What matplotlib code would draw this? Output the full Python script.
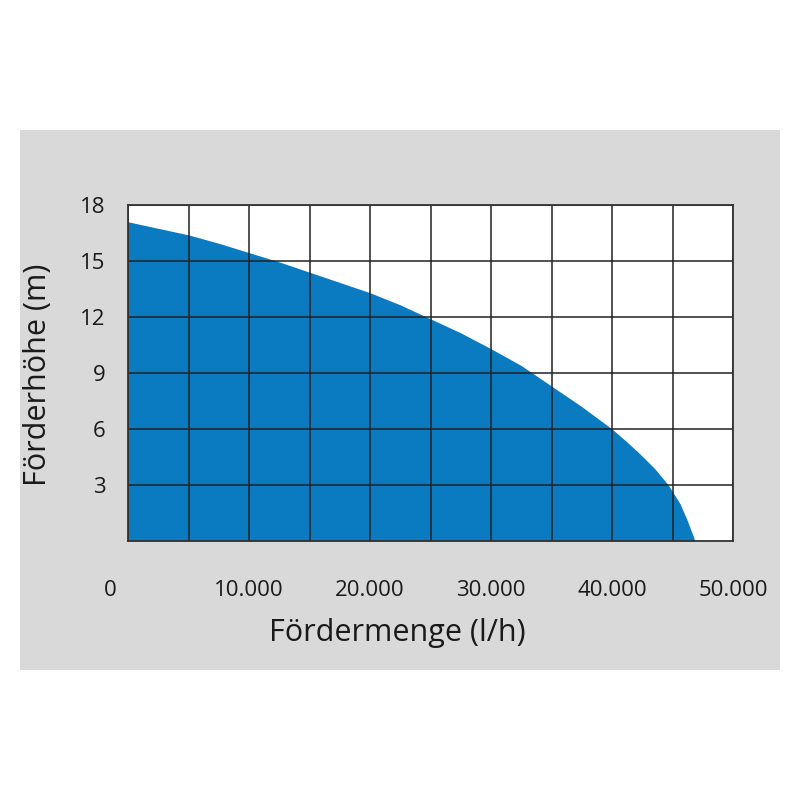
"""
Pumpenkennlinie - Förderhöhe über Fördermenge
"""
import matplotlib
matplotlib.use('Agg')

import matplotlib.pyplot as plt
import matplotlib.transforms as mtransforms

plt.rcParams['font.family'] = ['Open Sans', 'DejaVu Sans']

# Kennlinie
flow_lph = [0, 2500, 5000, 7500, 10000, 12500, 15000, 17500, 20000, 22500,
            25000, 27500, 30000, 32500, 35000, 37500, 40000, 41070, 42170,
            43500, 44650, 45620, 46220, 46860]
head_m = [17.1, 16.75, 16.4, 15.95, 15.45, 14.95, 14.4, 13.85, 13.3, 12.65,
          11.9, 11.15, 10.3, 9.4, 8.3, 7.2, 6.0, 5.4, 4.75,
          3.9, 3.0, 2.0, 1.1, 0.0]

x_ticks = [0, 10000, 20000, 30000, 40000, 50000]
x_labels = ['0', '10.000', '20.000', '30.000', '40.000', '50.000']
x_grid = [5000, 15000, 25000, 35000, 45000]
y_ticks = [3, 6, 9, 12, 15, 18]
y_labels = ['3', '6', '9', '12', '15', '18']

fill_color = '#0b7bc1'
line_color = '#222222'

fig = plt.figure(figsize=(8, 8), dpi=100)
fig.patch.set_facecolor('white')

# grauer Hintergrund
fig.add_artist(plt.Rectangle((0.025, 0.1625), 0.95, 0.675,
                             transform=fig.transFigure, facecolor='#d9d9d9',
                             edgecolor='none', zorder=0))

ax = fig.add_axes([0.16, 0.32375, 0.75625, 0.42])
ax.set_facecolor('white')
ax.fill_between(flow_lph, head_m, 0, color=fill_color, linewidth=0, zorder=1)

ax.set_xlim(0, 50000)
ax.set_ylim(0, 18)
ax.set_xticks(x_ticks)
ax.set_xticklabels(x_labels)
ax.set_xticks(x_grid, minor=True)
ax.set_yticks(y_ticks)
ax.set_yticklabels(y_labels)

ax.grid(True, which='both', color=line_color, linewidth=1.1, zorder=2)
ax.set_axisbelow(False)
ax.tick_params(which='both', length=0)
ax.tick_params(axis='x', labelsize=16, pad=28, colors='#1a1a1a')
ax.tick_params(axis='y', labelsize=16, pad=16, colors='#1a1a1a')

for sp in ax.spines.values():
    sp.set_color('#333333')
    sp.set_linewidth(1.3)
    sp.set_zorder(3)

# "0" etwas nach links versetzt
lbl0 = ax.get_xticklabels()[0]
lbl0.set_transform(lbl0.get_transform() +
                   mtransforms.ScaledTranslation(-0.18, 0, fig.dpi_scale_trans))

fig.text(0.497, 0.209, 'Fördermenge (l/h)', ha='center', va='center',
         fontsize=22, color='#1a1a1a')
fig.text(0.048, 0.532, 'Förderhöhe (m)', ha='center', va='center',
         rotation=90, fontsize=22, color='#1a1a1a')

plt.savefig('out.png', dpi=100, facecolor='white')
plt.close()
